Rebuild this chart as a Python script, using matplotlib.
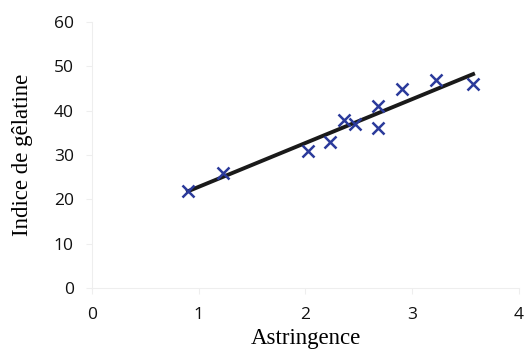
import matplotlib
matplotlib.use("Agg")
import matplotlib.pyplot as plt
import numpy as np

# Astringence vs. indice de gélatine
astringence = [0.90, 1.23, 2.02, 2.23, 2.36, 2.46, 2.68, 2.68, 2.90, 3.22, 3.57]
gelatine = [22, 26, 31, 33, 38, 37, 41, 36, 45, 47, 46]
xticks = [0, 1, 2, 3, 4]
yticks = [0, 10, 20, 30, 40, 50, 60]

BLUE = "#2b3a9b"
GRID = "#eeeeee"

x = np.array(astringence)
y = np.array(gelatine)
slope, intercept = np.polyfit(x, y, 1)
xfit = np.array([x.min(), x.max()])

fig = plt.figure(figsize=(5.28, 3.5), dpi=100)
ax = fig.add_axes([0.174, 0.177, 0.809, 0.76])

ax.plot(xfit, slope * xfit + intercept, color="#1a1a1a", lw=2.8, zorder=2)
ax.plot(x, y, ls="none", marker="x", ms=8.5, mew=1.8, color=BLUE, zorder=3)

ax.set_xlim(0, 4); ax.set_ylim(0, 60)
ax.set_xticks(xticks); ax.set_yticks(yticks)
ax.tick_params(axis="both", length=4, color=GRID, labelsize=12.5, labelcolor="#111111")
ax.tick_params(axis="x", pad=10)
ax.tick_params(axis="y", pad=9)
for lbl in ax.get_xticklabels() + ax.get_yticklabels():
    lbl.set_family("Open Sans")
for s in ax.spines.values():
    s.set_color(GRID)
ax.spines["top"].set_visible(False)
ax.spines["right"].set_visible(False)

ax.set_xlabel("Astringence", family="Liberation Serif", fontsize=16.5, labelpad=3)
ax.set_ylabel("Indice de gêlatine", family="Liberation Serif", fontsize=16.5, labelpad=15)

fig.savefig("out.png", dpi=100)
